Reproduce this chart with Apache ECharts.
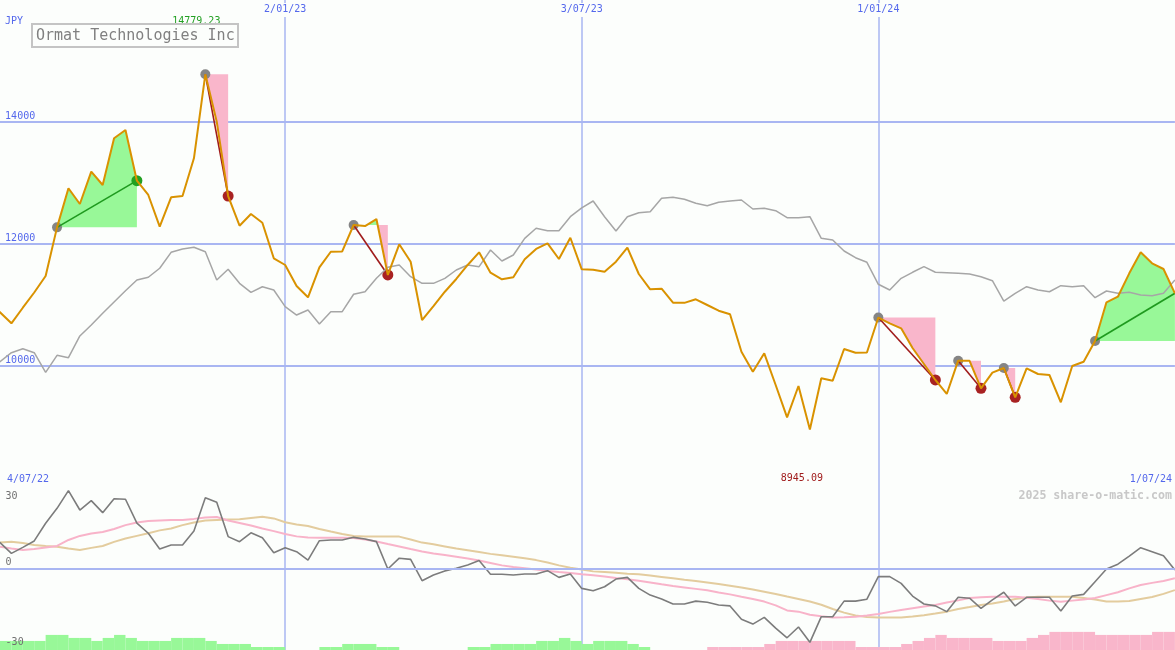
<!DOCTYPE html>
<html><head><meta charset="utf-8">
<script src="https://cdn.jsdelivr.net/npm/echarts@6/dist/echarts.min.js"></script>
<style>html,body{margin:0;padding:0;background:#fcfefc}#c{width:1175px;height:650px}</style>
</head><body><div id="c"></div>
<script>
// ---- data (weekly, week 0 = 4/07/22) ----
const TICK_WEEKS = [0, 26, 52, 78, 104];
const TICK_LABELS = ['4/07/22', '2/01/23', '3/07/23', '1/01/24', '1/07/24'];
const COMPANY = 'Ormat Technologies Inc';
const CURRENCY = 'JPY';
const CREDIT = '2025 share-o-matic.com';
const OSC_LABELS = [30, 0, -30];

const PRICE = [11070, 10870, 10689, 10945, 11195, 11466, 12265, 12907, 12649, 13180,
  12961, 13728, 13864, 13032, 12797, 12276, 12759, 12780, 13400, 14779.23,
  14001, 12780, 12292, 12485, 12342, 11757, 11647, 11302, 11116, 11609,
  11865, 11870, 12304, 12287, 12402, 11483, 11987, 11701, 10743, 10973,
  11208, 11417, 11647, 11855, 11520, 11412, 11445, 11740, 11910, 12003,
  11745, 12095, 11576, 11570, 11537, 11701, 11931, 11499, 11248, 11257,
  11028, 11025, 11083, 10990, 10896, 10837, 10223, 9894, 10196, 9676,
  9145, 9659, 8945.09, 9786, 9746, 10267, 10206, 10210, 10784, 10689,
  10607, 10283, 10021, 9758, 9528, 10075, 10072, 9621, 9878, 9955,
  9474, 9950, 9856, 9840, 9391, 9988, 10058, 10398, 11034, 11126,
  11510, 11855, 11675, 11581, 11182];

const RELATIVE = [9988, 10058, 10206, 10272, 10206, 9884, 10163, 10124, 10481, 10661,
  10853, 11039, 11225, 11400, 11445, 11593, 11855, 11910, 11938, 11865,
  11400, 11576, 11346, 11198, 11290, 11236, 10962, 10825, 10908, 10678,
  10880, 10880, 11166, 11208, 11428, 11609, 11647, 11455, 11346, 11346,
  11428, 11565, 11647, 11619, 11893, 11713, 11811, 12085, 12250, 12210,
  12210, 12440, 12586, 12698, 12440, 12205, 12440, 12506, 12522, 12743,
  12759, 12726, 12660, 12621, 12677, 12698, 12715, 12567, 12578, 12539,
  12424, 12424, 12440, 12085, 12058, 11877, 11767, 11691, 11330, 11236,
  11428, 11527, 11619, 11527, 11520, 11510, 11499, 11455, 11389, 11055,
  11182, 11290, 11236, 11208, 11307, 11290, 11307, 11110, 11220, 11182,
  11198, 11154, 11143, 11182, 11400];

const OSC = [11.9, 10.8, 6.3, 8.8, 11.5, 18.9, 25.1, 32.5, 24.4, 28.3,
  23.3, 29.1, 28.9, 18.9, 14.7, 8.1, 9.8, 9.8, 15.6, 29.5,
  27.6, 13.3, 11.2, 14.9, 12.8, 6.6, 8.7, 7.0, 3.5, 11.6,
  11.9, 11.9, 13.0, 12.3, 11.2, -0.2, 4.3, 3.8, -5.1, -2.7,
  -1.0, 0.1, 1.5, 3.3, -2.4, -2.4, -2.7, -2.3, -2.3, -0.9,
  -3.7, -2.3, -8.3, -9.3, -7.6, -4.4, -3.7, -8.3, -11.1, -12.7,
  -14.8, -14.8, -13.6, -14.1, -15.2, -15.6, -21.2, -23.2, -20.4, -24.9,
  -28.9, -24.4, -30.8, -20.1, -20.1, -13.6, -13.6, -12.8, -3.4, -3.4,
  -6.2, -11.5, -14.8, -15.6, -18.0, -12.0, -12.4, -16.6, -13.1, -9.9,
  -15.6, -12.0, -12.0, -12.0, -17.7, -11.5, -10.8, -5.5, -0.2, 1.8,
  5.2, 8.7, 7.0, 5.3, -0.6];

const OSC_FAST = [9.8, 9.1, 8.3, 7.7, 8.1, 8.8, 9.4, 11.9, 13.6, 14.6,
  15.2, 16.5, 18.1, 19.2, 19.8, 20.0, 20.2, 20.2, 20.7, 21.3,
  21.5, 20.0, 19.0, 17.9, 16.7, 15.6, 14.4, 13.4, 12.9, 12.8,
  12.8, 12.8, 12.7, 12.1, 11.3, 10.2, 9.2, 8.1, 7.1, 6.3,
  5.6, 4.9, 4.2, 3.3, 2.3, 1.3, 0.6, 0.1, -0.4, -1.0,
  -1.5, -1.9, -2.4, -2.8, -3.3, -4.0, -4.5, -5.1, -5.8, -6.6,
  -7.3, -7.9, -8.5, -9.1, -10.0, -10.8, -11.8, -12.7, -13.8, -15.4,
  -17.5, -18.0, -19.3, -19.9, -20.4, -20.3, -20.1, -19.6, -19.0, -18.1,
  -17.3, -16.6, -15.9, -15.2, -14.2, -13.3, -12.3, -12.0, -11.8, -11.8,
  -11.8, -12.2, -12.7, -13.4, -13.9, -13.4, -12.9, -12.3, -11.1, -9.9,
  -8.3, -6.9, -6.0, -5.2, -4.1];

const OSC_SLOW = [10.6, 10.8, 11.2, 10.6, 9.8, 9.4, 9.1, 8.3, 7.7, 8.6,
  9.4, 11.1, 12.5, 13.6, 14.7, 15.9, 16.7, 18.1, 19.2, 20.0,
  20.2, 20.4, 20.5, 21.1, 21.6, 20.9, 19.3, 18.4, 17.7, 16.5,
  15.4, 14.4, 13.6, 13.4, 13.3, 13.3, 13.3, 12.1, 10.8, 10.1,
  9.2, 8.3, 7.6, 6.9, 6.1, 5.5, 4.9, 4.3, 3.5, 2.5,
  1.3, 0.3, -0.4, -1.2, -1.5, -1.8, -2.2, -2.4, -2.9, -3.5,
  -4.1, -4.7, -5.2, -5.8, -6.5, -7.2, -7.9, -8.8, -9.7, -10.6,
  -11.7, -12.7, -13.8, -15.1, -16.9, -18.4, -19.6, -20.2, -20.4, -20.4,
  -20.4, -20.0, -19.5, -18.8, -18.0, -16.9, -16.1, -15.2, -14.6, -13.8,
  -12.7, -12.1, -11.8, -11.8, -11.8, -11.8, -12.3, -12.9, -13.8, -13.8,
  -13.6, -12.7, -11.9, -10.6, -9.0];

const HIST = [3, 3, 3, 3, 3, 5, 5, 4, 4, 3,
  4, 5, 4, 3, 3, 3, 4, 4, 4, 3,
  2, 2, 2, 1, 1, 1, 0, 0, 0, 1,
  1, 2, 2, 2, 1, 1, 0, 0, 0, 0,
  0, 0, 1, 1, 2, 2, 2, 2, 3, 3,
  4, 3, 2, 3, 3, 3, 2, 1, 0, 0,
  0, 0, 0, -1, -1, -1, -1, -1, -2, -3,
  -3, -3, -3, -3, -3, -3, -1, -1, -1, -1,
  -2, -3, -4, -5, -4, -4, -4, -4, -3, -3,
  -3, -4, -5, -6, -6, -6, -6, -5, -5, -5,
  -5, -5, -6, -6, -6];

// signals: [start week, end week]
const SIGNALS = [[6, 13], [19, 21], [32, 35], [78, 83], [85, 87], [89, 90], [97, 104]];
const SIGNAL_CLOSED = [true, true, true, true, true, true, false];

// ---- style / layout ----
const FONT = 'DejaVu Sans Mono';
const BG = '#fcfefc';
const GRID_BLUE = '#a9b6f2';
const SEP_BLUE = '#7a8cea';
const LABEL_BLUE = '#5468ec';
const GREEN_FILL = '#98f898';
const PINK_FILL = '#f9b6cb';
const Y_MIN = 8000, Y_MAX = 16000, MAIN_H = 487;
const yAtPx = px => Y_MAX - px * (Y_MAX - Y_MIN) / MAIN_H;

const xLabel = v => { const i = TICK_WEEKS.indexOf(v); return i >= 0 ? TICK_LABELS[i] : ''; };
let iMax = 0, iMin = 0;
PRICE.forEach((v, i) => { if (v > PRICE[iMax]) iMax = i; if (v < PRICE[iMin]) iMin = i; });

function fillRender(params, api) {
  const [s, e] = SIGNALS[params.dataIndex];
  const base = PRICE[s];
  const pts = [];
  for (let k = s; k <= e; k++) {
    if (k > s) {
      const a = PRICE[k - 1] - base, b = PRICE[k] - base;
      if (a * b < 0) pts.push([k - 1 + a / (a - b), base]);
    }
    pts.push([k, PRICE[k]]);
  }
  const up = [[s, base]].concat(pts.map(p => [p[0], Math.max(p[1], base)]), [[e, base]]).map(p => api.coord(p));
  const dn = [[s, base]].concat(pts.map(p => [p[0], Math.min(p[1], base)]), [[e, base]]).map(p => api.coord(p));
  return { type: 'group', children: [
    { type: 'polygon', shape: { points: up }, style: { fill: GREEN_FILL } },
    { type: 'polygon', shape: { points: dn }, style: { fill: PINK_FILL } }
  ] };
}

function markerRender(params, api) {
  const i = params.dataIndex;
  const [s, e] = SIGNALS[i];
  const up = PRICE[e] > PRICE[s];
  const p0 = api.coord([s, PRICE[s]]), p1 = api.coord([e, PRICE[e]]);
  const lineCol = up ? '#1f9a1f' : '#a01c1c';
  const children = [
    { type: 'circle', shape: { cx: p0[0], cy: p0[1], r: 5 }, style: { fill: '#858585' } },
    { type: 'line', shape: { x1: p0[0], y1: p0[1], x2: p1[0], y2: p1[1] }, style: { stroke: lineCol, lineWidth: 1.6 } }
  ];
  if (SIGNAL_CLOSED[i]) children.push({ type: 'circle', shape: { cx: p1[0], cy: p1[1], r: 5.5 }, style: { fill: up ? '#22a022' : '#a82222' } });
  return { type: 'group', children };
}

function histRender(params, api) {
  const v = HIST[params.dataIndex];
  if (!v) return null;
  const k = params.dataIndex;
  const a = api.coord([k, 0]), b = api.coord([k + 1, Math.abs(v)]);
  return { type: 'rect', shape: { x: a[0], y: b[1], width: b[0] - a[0], height: a[1] - b[1] },
    style: { fill: v > 0 ? GREEN_FILL : PINK_FILL } };
}

const chart = echarts.init(document.getElementById('c'), null, { renderer: 'canvas' });
const smallText = (color, extra) => Object.assign({ fontFamily: FONT, fontSize: 10, fontWeight: 'normal', color: color, lineHeight: 12 }, extra || {});

chart.setOption({
  backgroundColor: BG,
  animation: false,
  title: [
    { text: COMPANY, left: 32, top: 24, padding: [3, 4, 2, 4], borderWidth: 2, borderColor: '#c4c4c4', backgroundColor: BG,
      textStyle: { fontFamily: FONT, fontSize: 15, fontWeight: 'normal', color: '#808080', lineHeight: 18 } },
    { text: CURRENCY, left: 5, top: 15, padding: 0, textStyle: smallText(LABEL_BLUE) },
    { text: TICK_LABELS[0], left: 7, top: 473, padding: 0, textStyle: smallText(LABEL_BLUE) },
    { text: TICK_LABELS[TICK_LABELS.length - 1], right: 3, top: 473, padding: 0, textStyle: smallText(LABEL_BLUE) },
    { text: CREDIT, right: 3, top: 489, padding: 0, textStyle: { fontFamily: FONT, fontSize: 11.6, fontWeight: 'bold', color: '#c8c8c8', lineHeight: 13 } }
  ],
  grid: [
    { left: -11.4, right: 0.1, top: 0, height: MAIN_H, outerBoundsMode: 'none', containLabel: false },
    { left: -11.4, right: 0.1, top: MAIN_H, height: 650 - MAIN_H, outerBoundsMode: 'none', containLabel: false }
  ],
  xAxis: [
    { type: 'value', gridIndex: 0, position: 'top', min: 0, max: 104, interval: 26,
      axisLine: { show: false }, axisTick: { show: false },
      axisLabel: { inside: true, margin: 3, showMinLabel: false, showMaxLabel: false, formatter: xLabel,
        fontFamily: FONT, fontSize: 10, color: LABEL_BLUE, backgroundColor: BG, padding: [1, 2, 3, 2] },
      splitLine: { show: true, showMinLine: false, showMaxLine: false, lineStyle: { color: GRID_BLUE, width: 1.5 } } },
    { type: 'value', gridIndex: 1, position: 'top', min: 0, max: 104, interval: 26,
      axisLine: { show: true, lineStyle: { color: SEP_BLUE, width: 2 } }, axisTick: { show: false },
      axisLabel: { show: false },
      splitLine: { show: true, showMinLine: false, showMaxLine: false, lineStyle: { color: GRID_BLUE, width: 1.5 } } }
  ],
  yAxis: [
    { type: 'value', gridIndex: 0, min: Y_MIN, max: Y_MAX, interval: 2000,
      axisLine: { show: false }, axisTick: { show: false },
      axisLabel: { inside: true, margin: 16.5, verticalAlign: 'bottom', showMinLabel: false, showMaxLabel: false,
        fontFamily: FONT, fontSize: 10, color: LABEL_BLUE, formatter: v => String(v) },
      splitLine: { show: true, showMinLine: false, showMaxLine: false, lineStyle: { color: GRID_BLUE, width: 2 } } },
    { type: 'value', gridIndex: 1, min: -34, max: 34, z: 10,
      axisLine: { show: false }, axisTick: { show: false }, splitLine: { show: false },
      axisLabel: { inside: true, margin: 17, customValues: OSC_LABELS, verticalAlign: 'middle',
        fontFamily: FONT, fontSize: 10, color: '#707070',
        formatter: v => v === 0 ? '{z|0}' : (v < 0 ? '{n|' + v + '}' : String(v)),
        rich: { z: { fontFamily: FONT, fontSize: 10, color: '#707070', padding: [0, 0, 13, 0] },
                n: { fontFamily: FONT, fontSize: 10, color: '#707070', padding: [3, 0, 0, 0] } } } },
    { type: 'value', gridIndex: 1, min: 0, max: 54, show: false, splitLine: { show: false } }
  ],
  series: [
    { type: 'custom', name: 'signal-fill', xAxisIndex: 0, yAxisIndex: 0, silent: true,
      data: SIGNALS.map(([s, e]) => [s, PRICE[s], e]), encode: { x: 0, y: 1 }, renderItem: fillRender },
    { type: 'line', name: 'relative', xAxisIndex: 0, yAxisIndex: 0, silent: true, symbol: 'none',
      data: RELATIVE.map((v, i) => [i, v]), lineStyle: { color: '#a6a6a6', width: 1.5 } },
    { type: 'line', name: 'price', xAxisIndex: 0, yAxisIndex: 0, silent: true, symbol: 'none',
      data: PRICE.map((v, i) => [i, v]), lineStyle: { color: '#d99200', width: 2 },
      markPoint: { symbol: 'rect', symbolSize: 0, silent: true,
        label: { show: true, position: 'inside', fontFamily: FONT, fontSize: 10, formatter: p => Number(p.value).toFixed(2) },
        data: [
          { coord: [iMax, yAtPx(21)], value: PRICE[iMax], label: { color: '#22a022', offset: [-9, 0] } },
          { coord: [iMin, yAtPx(478)], value: PRICE[iMin], label: { color: '#a01c1c', offset: [-8, 0] } }
        ] } },
    { type: 'custom', name: 'signal-marks', xAxisIndex: 0, yAxisIndex: 0, silent: true,
      data: SIGNALS.map(([s, e]) => [s, PRICE[s], e]), encode: { x: 0, y: 1 }, renderItem: markerRender },
    { type: 'custom', name: 'hist', xAxisIndex: 1, yAxisIndex: 2, silent: true, z: 1,
      data: HIST.map((v, i) => [i, Math.abs(v)]), encode: { x: 0, y: 1 }, renderItem: histRender },
    { type: 'line', name: 'slow', xAxisIndex: 1, yAxisIndex: 1, silent: true, symbol: 'none',
      data: OSC_SLOW.map((v, i) => [i, v]), lineStyle: { color: '#e3cc9e', width: 2 } },
    { type: 'line', name: 'fast', xAxisIndex: 1, yAxisIndex: 1, silent: true, symbol: 'none',
      data: OSC_FAST.map((v, i) => [i, v]), lineStyle: { color: '#f8b3c9', width: 2 } },
    { type: 'line', name: 'osc', xAxisIndex: 1, yAxisIndex: 1, silent: true, symbol: 'none',
      data: OSC.map((v, i) => [i, v]), lineStyle: { color: '#7c7c7c', width: 1.6 },
      markLine: { silent: true, symbol: ['none', 'none'], label: { show: false },
        lineStyle: { color: GRID_BLUE, width: 2, type: 'solid' }, data: [{ yAxis: 0 }] } }
  ]
});
</script></body></html>
